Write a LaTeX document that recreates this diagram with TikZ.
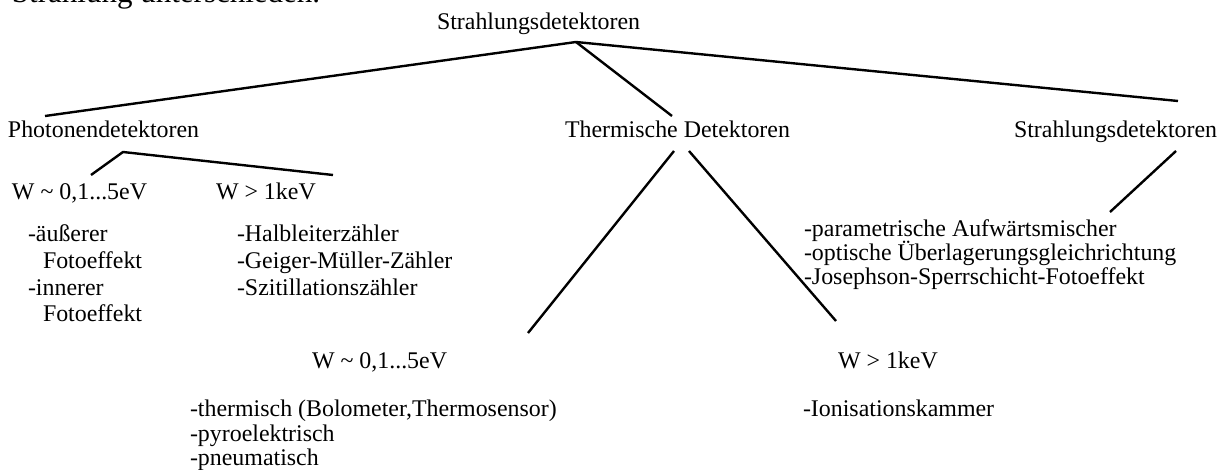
\documentclass[tikz,border=0pt]{standalone}
\usepackage{fontspec}
\setmainfont{Liberation Serif}
\begin{document}
\begin{tikzpicture}[x=1pt,y=-1pt,
  lbl/.style={inner sep=0pt, outer sep=0pt, anchor=base west,
              font=\fontsize{23.9}{26}\selectfont},
  bodytext/.style={inner sep=0pt, outer sep=0pt, anchor=base west,
              font=\fontsize{31}{36}\selectfont},
  edge/.style={line width=2.4pt}]
\useasboundingbox (0,0) rectangle (1228,470);
\clip (0,0) rectangle (1228,470);

% running text above the figure
\node[bodytext] (intro) at (12,3) {Strahlung unterschieden.};

% tree labels
\node[lbl] (root)  at (437,30)  {Strahlungsdetektoren};
\node[lbl] (photo) at (8,138)   {Photonendetektoren};
\node[lbl] (therm) at (565,138) {Thermische Detektoren};
\node[lbl] (strah) at (1014,138){Strahlungsdetektoren};

\node[lbl] (pw1) at (12,200)  {W \char"7E\ 0,1...5eV};
\node[lbl] (pw2) at (216,200) {W > 1keV};

\node[lbl] (pa1) at (28,242)   {-äußerer};
\node[lbl] (pa2) at (43,268.5) {Fotoeffekt};
\node[lbl] (pa3) at (28,295)   {-innerer};
\node[lbl] (pa4) at (43,321.5) {Fotoeffekt};

\node[lbl] (pb1) at (237,242)   {-Halbleiterzähler};
\node[lbl] (pb2) at (237,268.5) {-Geiger-Müller-Zähler};
\node[lbl] (pb3) at (237,295)   {-Szitillationszähler};

\node[lbl] (sa1) at (804,237)   {-parametrische Aufwärtsmischer};
\node[lbl] (sa2) at (804,260.5) {-optische Überlagerungsgleichrichtung};
\node[lbl] (sa3) at (804,284)   {-Josephson-Sperrschicht-Fotoeffekt};

\node[lbl] (tw1) at (312,368) {W \char"7E\ 0,1...5eV};
\node[lbl] (tw2) at (838,368) {W > 1keV};

\node[lbl] (ta1) at (190,416) {-thermisch (Bolometer,Thermosensor)};
\node[lbl] (ta2) at (190,441) {-pyroelektrisch};
\node[lbl] (ta3) at (190,465) {-pneumatisch};

\node[lbl] (tb1) at (803,416) {-Ionisationskammer};

% branch points
\coordinate (rootJ)  at (576,42);
\coordinate (photoT) at (45,116);
\coordinate (thermT) at (672,116);
\coordinate (strahT) at (1178,101);

\coordinate (photoJ) at (123,152);
\coordinate (pw1T)   at (91,175);
\coordinate (pw2T)   at (333,175);

\coordinate (thermL) at (674,151);
\coordinate (thermR) at (689,151);
\coordinate (tw1T)   at (528,333);
\coordinate (tw2T)   at (836,321);

\coordinate (strahJ) at (1176,151);
\coordinate (sa1T)   at (1110,212);

% connectors
\draw[edge] (photoT) -- (rootJ) -- (strahT);
\draw[edge] (rootJ) -- (thermT);
\draw[edge] (pw1T) -- (photoJ) -- (pw2T);
\draw[edge] (thermL) -- (tw1T);
\draw[edge] (thermR) -- (tw2T);
\draw[edge] (strahJ) -- (sa1T);
\end{tikzpicture}
\end{document}
